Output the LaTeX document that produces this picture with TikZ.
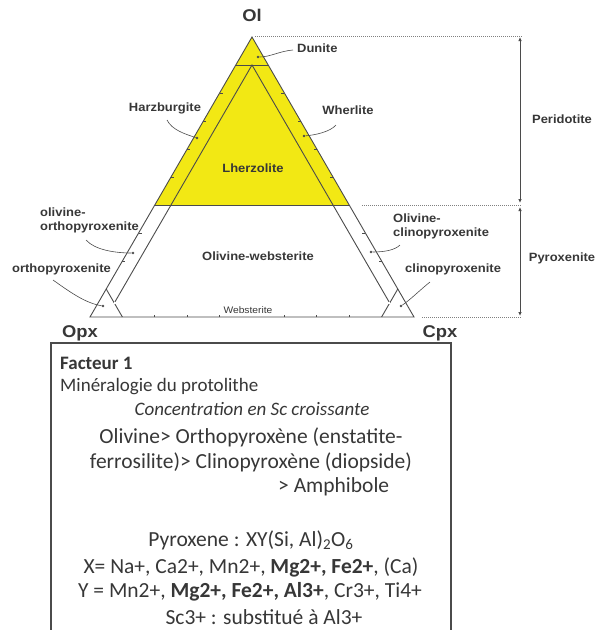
\documentclass[tikz,border=0pt]{standalone}
\usepackage{fontspec}
\setmainfont{Carlito}
\newfontfamily\lab[FakeStretch=1.08]{Liberation Sans}
\usetikzlibrary{arrows.meta,calc}
\definecolor{ylw}{RGB}{242,232,20}
\definecolor{ln}{RGB}{75,75,75}
\definecolor{txt}{RGB}{55,55,55}
\begin{document}
\begin{tikzpicture}[x=1pt,y=-1pt,
  lbl/.style={font=\lab\bfseries\fontsize{12}{14}\selectfont, text=txt, inner sep=0pt, align=left},
  vtx/.style={font=\lab\bfseries\fontsize{17}{19}\selectfont, text=txt, inner sep=0pt},
  edgeln/.style={draw=ln, line width=0.9pt},
  lead/.style={draw=ln, line width=0.6pt},
  dotm/.style={circle, fill=ln, inner sep=0pt, minimum size=2.6pt},
  dotln/.style={draw=gray, line width=0.8pt, dash pattern=on 1pt off 1pt},
  dimarrow/.style={draw=ln, line width=0.9pt, {Latex[length=4pt,width=3.5pt]}-{Latex[length=4pt,width=3.5pt]}},
  small/.style={font=\fontsize{19}{23}\selectfont, text=txt, inner sep=0pt},
  big/.style={font=\fontsize{21.5}{25}\selectfont, text=txt, inner sep=0pt}]
\useasboundingbox (0,0) rectangle (595,630);

% geometry
\coordinate (O) at (252,37);
\coordinate (P) at (90,317);
\coordinate (C) at (414,317);
\coordinate (D1) at (235.8,65);
\coordinate (D2) at (268.2,65);
\coordinate (IA) at (252,65);
\coordinate (Y1) at (154.8,205);
\coordinate (Y2) at (349.2,205);
\coordinate (W1) at (114.3,303);
\coordinate (W2) at (389.7,303);
\coordinate (K1) at (106.2,289);
\coordinate (K1b) at (122.4,317);
\coordinate (K2) at (397.8,289);
\coordinate (K2b) at (381.6,317);

% yellow peridotite field
\fill[ylw] (O) -- (Y1) -- (Y2) -- cycle;

% lines
\draw[edgeln] (O) -- (P) -- (C) -- cycle;
\draw[edgeln] (D1) -- (D2);
\draw[edgeln] (Y1) -- (Y2);
\draw[edgeln] (W1) -- (IA) -- (W2);
\draw[edgeln] (K1) -- (K1b);
\draw[edgeln] (K2) -- (K2b);
\draw[draw=ln, line width=0.6pt, double=white, double distance=1.4pt] (W1) -- (W2);

% ticks
\foreach \t in {0.2,0.3,0.4,0.5,0.7,0.8} {
  \draw[ln, line width=0.8pt] ($(O)!\t!(P)$) -- ++(3,0);
  \draw[ln, line width=0.8pt] ($(O)!\t!(C)$) -- ++(-3,0);
}
\foreach \t in {0.2,0.3,0.4,0.6,0.7,0.8} {
  \draw[ln, line width=0.8pt] ($(P)!\t!(C)$) -- ++(0,-2.5);
}

% dots
\node[dotm] (dDun) at (258,57) {};
\node[dotm] (dHar) at (197,138) {};
\node[dotm] (dWhe) at (304,136) {};
\node[dotm] (dOOpx) at (133,253) {};
\node[dotm] (dOpx) at (103,306) {};
\node[dotm] (dOCpx) at (371,252) {};
\node[dotm] (dCpx) at (401,306) {};

% labels
\node[vtx] (Ol) at (252,15) {Ol};
\node[vtx] (Opx) at (80,333) {Opx};
\node[vtx] (Cpx) at (440,333) {Cpx};

\node[lbl, anchor=west] (tDun) at (297,48) {Dunite};
\node[lbl] (tHar) at (165,108) {Harzburgite};
\node[lbl] (tWhe) at (348,110) {Wherlite};
\node[lbl] (tLhe) at (253,168) {Lherzolite};
\node[lbl, anchor=west] (tOOpx) at (40,220) {olivine-\\orthopyroxenite};
\node[lbl, anchor=west] (tOpx) at (12,269) {orthopyroxenite};
\node[lbl] (tOWeb) at (258,256) {Olivine-websterite};
\node[lbl, anchor=west] (tOCpx) at (393,226) {Olivine-\\clinopyroxenite};
\node[lbl, anchor=west] (tCpx) at (405,269) {clinopyroxenite};
\node[font=\lab\fontsize{9.5}{10}\selectfont, text=txt, inner sep=0pt] (tWeb) at (248,310) {Websterite};

% leaders
\draw[lead] (tDun.west) ++(-4,2) .. controls (280,51) and (270,57) .. (dDun);
\draw[lead] (167,120) .. controls (172,130) and (185,134) .. (dHar);
\draw[lead] (336,125) .. controls (330,132) and (315,135) .. (dWhe);
\draw[lead] (86,240) .. controls (95,250) and (115,253) .. (dOOpx);
\draw[lead] (53,280) .. controls (70,292) and (85,303) .. (dOpx);
\draw[lead] (400,245) .. controls (395,250) and (385,252) .. (dOCpx);
\draw[lead] (430,282) .. controls (420,290) and (410,300) .. (dCpx);

% dimension lines
\coordinate (T1) at (522,36);
\coordinate (T2) at (522,205);
\coordinate (T3) at (522,317);
\draw[dotln] (255,36) -- (T1);
\draw[dotln] (362,205) -- (T2);
\draw[dotln] (422,317) -- (T3);
\draw[dimarrow] (520,37) -- (520,203);
\draw[dimarrow] (520,207) -- (520,316);
\node[lbl] (tPer) at (562,119) {Peridotite};
\node[lbl] (tPyr) at (562,258) {Pyroxenite};

% text box
\draw[draw=ln, line width=1.1pt] (51,343) rectangle (451,645);
\node[small, anchor=west, font=\bfseries\fontsize{19}{23}\selectfont] (f1) at (60,363) {Facteur 1};
\node[small, anchor=west] (f2) at (60,387) {Minéralogie du protolithe};
\node[small, font=\itshape\fontsize{19}{23}\selectfont] (f3) at (252,409) {Concentration en Sc croissante};
\node[big] (f4) at (251,437) {Olivine> Orthopyroxène (enstatite-};
\node[big] (f5) at (251,462) {ferrosilite)> Clinopyroxène (diopside)};
\node[big, anchor=west] (f6) at (278,487) {> Amphibole};
\node[big] (f7) at (251,540) {Pyroxene : XY(Si, Al)\textsubscript{2}O\textsubscript{6}};
\node[big] (f8) at (251,567) {X= Na+, Ca2+, Mn2+, \textbf{Mg2+, Fe2+}, (Ca)};
\node[big] (f9) at (250,592) {Y = Mn2+, \textbf{Mg2+, Fe2+, Al3+}, Cr3+, Ti4+};
\node[big] (f10) at (264,617) {Sc3+ : substitué à Al3+};
\end{tikzpicture}
\end{document}
